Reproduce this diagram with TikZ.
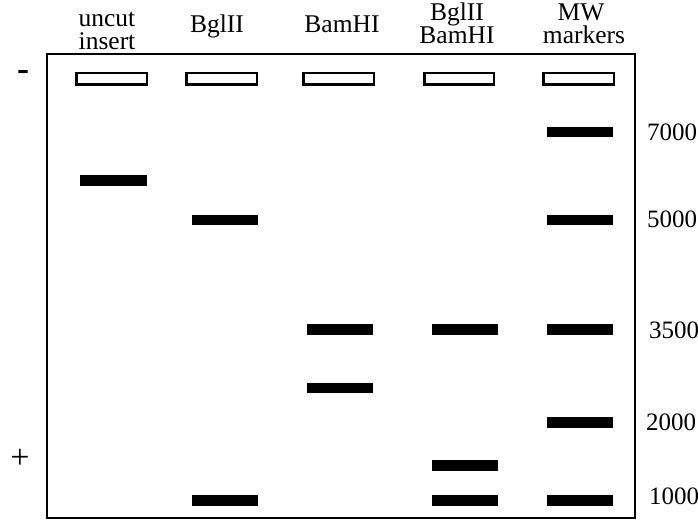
\documentclass[tikz,border=0pt]{standalone}
\usepackage{fontspec}
\setmainfont{Liberation Serif}
\begin{document}
\begin{tikzpicture}[x=1pt,y=-1pt,
  lbl/.style={inner sep=0pt,anchor=base,font=\fontsize{25.5}{25.5}\selectfont},
  size/.style={inner sep=0pt,anchor=base west,font=\fontsize{25}{25}\selectfont},
  gel/.style={draw,line width=2.3pt},
  well/.style={draw,line width=2.5pt,fill=white},
  band/.style={fill=black}]
\useasboundingbox (0,0) rectangle (698,521);
% gel outline
\draw[gel] (47,54) rectangle (635,518);
% electrodes
\node[inner sep=0pt,font=\fontsize{36}{36}\selectfont\bfseries] (minus) at (23,76) {-};
\node[inner sep=0pt,font=\fontsize{34}{34}\selectfont] (plus) at (20,459) {+};
% lane headings
\node[lbl] (h1a) at (107,27) {uncut};
\node[lbl] (h1b) at (107,50) {insert};
\node[lbl] (h2) at (217,33) {BglII};
\node[lbl] (h3) at (342,33) {BamHI};
\node[lbl] (h4a) at (457,21) {BglII};
\node[lbl] (h4b) at (457,44) {BamHI};
\node[lbl] (h5a) at (581,21) {MW};
\node[lbl] (h5b) at (584,44) {markers};
% loading wells
\foreach \x/\w in {76.25/146.75, 186.25/256.75, 303.25/373.75, 424.25/493.75, 543.25/613.75}
  \draw[well] (\x,73.25) rectangle (\w,84.75);
% bands: lane-left/lane-right/centre y
\foreach \a/\b/\y in {80/147/180.5,
                      192/258/220, 192/258/500.5,
                      307/373/329.5, 307/373/388,
                      432/498/329.5, 432/498/465.5, 432/498/500.5,
                      547/613/132, 547/613/220, 547/613/329.5, 547/613/422.5, 547/613/500.5}
  \fill[band] (\a,\y-5.25) rectangle (\b,\y+5.25);
% marker sizes
\node[size] (s7000) at (647,141) {7000};
\node[size] (s5000) at (647,228) {5000};
\node[size] (s3500) at (649,338) {3500};
\node[size] (s2000) at (646,430) {2000};
\node[size] (s1000) at (649,504) {1000};
\end{tikzpicture}
\end{document}
